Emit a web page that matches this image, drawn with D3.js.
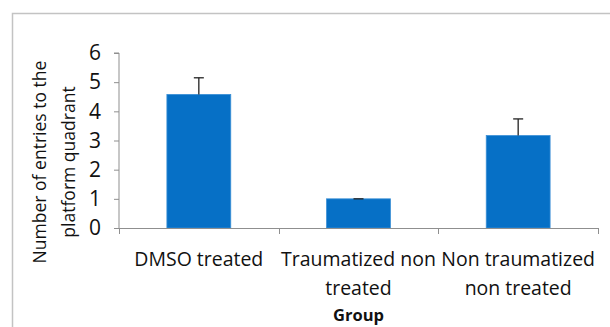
<!DOCTYPE html>
<html>
<head>
<meta charset="utf-8">
<script src="https://cdn.jsdelivr.net/npm/d3@7"></script>
<style>
  html, body { margin: 0; padding: 0; background: #fff; }
  svg { display: block; }
  text { font-family: "Open Sans", "Lato", sans-serif; fill: #111; }
</style>
</head>
<body>
<svg id="chart" width="610" height="327"></svg>
<script>
// ---- data ----
const categories = [["DMSO treated"], ["Traumatized non", "treated"], ["Non traumatized", "non treated"]];
const categoryKeys = ["DMSO treated", "Traumatized non treated", "Non traumatized non treated"];
const means = [4.58, 1.0, 3.17];
const errors = [0.57, 0.0, 0.57];
const yTicks = [0, 1, 2, 3, 4, 5, 6];
const yTitle = ["Number of entries to the", "platform quadrant"];
const xTitle = "Group";

// ---- layout ----
const svg = d3.select("#chart");
const plot = { left: 119, right: 598, top: 53, bottom: 228 };

// frame
svg.append("rect")
  .attr("x", 12.5).attr("y", 13.5)
  .attr("width", 700).attr("height", 500)
  .attr("fill", "none").attr("stroke", "#c3c3c3").attr("stroke-width", 1.5);

const x = d3.scaleBand().domain(categoryKeys).range([plot.left, plot.right]).paddingInner(0).paddingOuter(0);
const y = d3.scaleLinear().domain([0, 6]).range([plot.bottom, plot.top]);

// fit helper: scale font size so given text reaches target width
function fitSize(str, target, weight, base) {
  const t = svg.append("text").attr("font-size", base).attr("font-weight", weight).text(str);
  const w = t.node().getComputedTextLength();
  t.remove();
  return base * target / w;
}
const labelSize = fitSize("DMSO treated", 129, "normal", 20);
const tickSize = fitSize("6", 12, "normal", 20);
const titleSize = fitSize("Number of entries to the", 203, "normal", 20);
const groupSize = fitSize("Group", 51, "bold", 18);

// bars
const barW = x.bandwidth() * 0.4;
const data = categoryKeys.map((k, i) => ({ k, m: means[i], e: errors[i] }));

svg.append("g").selectAll("rect").data(data).join("rect")
  .attr("x", d => x(d.k) + (x.bandwidth() - barW) / 2)
  .attr("y", d => y(d.m))
  .attr("width", barW)
  .attr("height", d => y(0) - y(d.m))
  .attr("fill", "#0670c6")
  .attr("stroke", "#3b8fd6").attr("stroke-width", 0.8);

// error bars
const eg = svg.append("g").attr("stroke", "#222").attr("stroke-width", 1.3);
data.forEach(d => {
  const cx = x(d.k) + x.bandwidth() / 2;
  eg.append("line").attr("x1", cx).attr("x2", cx).attr("y1", y(d.m)).attr("y2", y(d.m + d.e));
  eg.append("line").attr("x1", cx - 5).attr("x2", cx + 5).attr("y1", y(d.m + d.e)).attr("y2", y(d.m + d.e));
});

// y axis
const yAxis = svg.append("g")
  .attr("transform", `translate(${plot.left},0)`)
  .call(d3.axisLeft(y).tickValues(yTicks).tickSize(5).tickPadding(13).tickFormat(d3.format("d")));
yAxis.selectAll("path, line").attr("stroke", "#8f8f8f");
yAxis.select(".domain").attr("d", `M-5,${plot.top}H0V${plot.bottom}`);
yAxis.selectAll("text").attr("font-size", tickSize).attr("font-family", "'Open Sans', Lato, sans-serif").attr("fill", "#111");

// x axis: boundaries ticks
const xg = svg.append("g");
xg.append("line").attr("x1", plot.left).attr("x2", plot.right)
  .attr("y1", plot.bottom + 0.5).attr("y2", plot.bottom + 0.5).attr("stroke", "#8f8f8f");
const bounds = categoryKeys.map(k => x(k)).concat([x(categoryKeys[2]) + x.bandwidth()]);
xg.selectAll("line.tk").data(bounds).join("line").attr("class", "tk")
  .attr("x1", d => Math.round(d) + 0.5).attr("x2", d => Math.round(d) + 0.5)
  .attr("y1", plot.bottom).attr("y2", plot.bottom + 6).attr("stroke", "#8f8f8f");

// category labels
categoryKeys.forEach((k, i) => {
  const t = svg.append("text")
    .attr("text-anchor", "middle")
    .attr("font-size", labelSize)
    .attr("x", x(k) + x.bandwidth() / 2)
    .attr("y", 266);
  categories[i].forEach((line, j) => {
    t.append("tspan").attr("x", x(k) + x.bandwidth() / 2).attr("y", 266 + j * 28.5).text(line);
  });
});

// x title
svg.append("text")
  .attr("text-anchor", "middle").attr("font-weight", "bold").attr("font-size", groupSize)
  .attr("x", (plot.left + plot.right) / 2).attr("y", 321)
  .text(xTitle);

// y title
const yt = svg.append("text")
  .attr("text-anchor", "middle").attr("font-size", titleSize)
  .attr("transform", "translate(0,162) rotate(-90)");
yTitle.forEach((line, j) => {
  yt.append("tspan").attr("x", 0).attr("y", 46 + j * 29).text(line);
});
</script>
</body>
</html>
